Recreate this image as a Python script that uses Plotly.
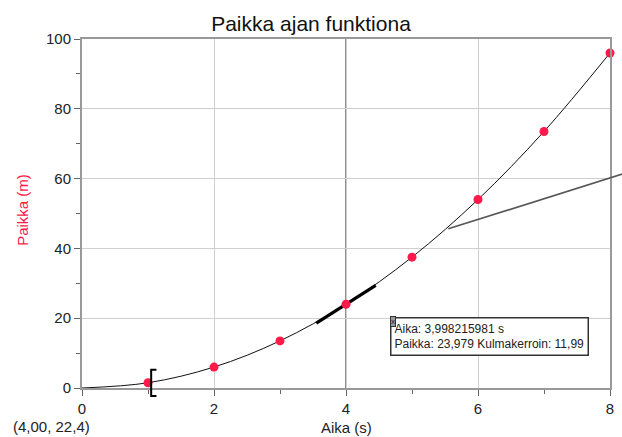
import plotly.graph_objects as go

# Data
aika = [1, 2, 3, 4, 5, 6, 7, 8]
paikka = [1.5, 6.0, 13.5, 24.0, 37.5, 54.0, 73.5, 96.0]
curve_x = [0, 1, 2, 3, 4, 5, 6, 7, 8]
curve_y = [0, 1.5, 6.0, 13.5, 24.0, 37.5, 54.0, 73.5, 96.0]
tangent_x = [3.55, 4.45]
tangent_y = [18.6, 29.4]
secant_x = [5.55, 8.0]
secant_y = [45.6, 60.2]
cursor_x = 4.0
bracket_x = 1.0
bracket_y = [-2.3, 5.2]
x_ticks = [0, 2, 4, 6, 8]
y_ticks = [0, 20, 40, 60, 80, 100]
x_range = [0, 8]
y_range = [0, 100]

RED = "#ff1a4a"
FONT = "Liberation Sans, Arial, sans-serif"

fig = go.Figure()

fig.add_trace(go.Scatter(x=curve_x, y=curve_y, mode="lines", line=dict(color="#111", width=1, shape="spline"),
                         hoverinfo="skip", showlegend=False))
fig.add_trace(go.Scatter(x=tangent_x, y=tangent_y, mode="lines", line=dict(color="#000", width=3.2),
                         hoverinfo="skip", showlegend=False))
fig.add_trace(go.Scatter(x=aika, y=paikka, mode="markers",
                         marker=dict(color=RED, size=9, line=dict(width=0)),
                         cliponaxis=False, showlegend=False))

def px(v):
    return (v - x_range[0]) / (x_range[1] - x_range[0])
def py(v):
    return (v - y_range[0]) / (y_range[1] - y_range[0])

# secant line extending beyond plot edge (paper coords computed from data)
slope = (secant_y[1] - secant_y[0]) / (secant_x[1] - secant_x[0])
x_ext = 8.2
fig.add_shape(type="line", xref="paper", yref="paper",
              x0=px(secant_x[0]), y0=py(secant_y[0]),
              x1=px(x_ext), y1=py(secant_y[0] + slope * (x_ext - secant_x[0])),
              line=dict(color="#555", width=1.6), layer="above")

# vertical cursor line
fig.add_shape(type="line", xref="x", yref="paper", x0=cursor_x, x1=cursor_x, y0=0, y1=1,
              line=dict(color="#444", width=1.2), layer="below")

# bracket "["
bx = px(bracket_x)
b_top = py(bracket_y[1])
b_bot = py(bracket_y[0])
fig.add_shape(type="path", xref="paper", yref="paper",
              path=f"M {bx+0.016},{b_top} L {bx+0.006},{b_top} L {bx+0.006},{b_bot} L {bx+0.016},{b_bot}",
              line=dict(color="#000", width=2))

# tooltip box
fig.add_annotation(xref="x", yref="y", x=4.66, y=20.3, xanchor="left", yanchor="top",
                   text="Aika: 3,998215981 s<br>Paikka: 23,979 Kulmakerroin: 11,99",
                   showarrow=False, align="left", font=dict(family=FONT, size=12, color="#222"),
                   bordercolor="#333", borderwidth=1.5, borderpad=3, bgcolor="white")
fig.add_annotation(xref="x", yref="y", x=4.67, y=20.6, xanchor="left", yanchor="top",
                   text="x", showarrow=False, font=dict(family=FONT, size=8, color="#222"),
                   bgcolor="#999", bordercolor="#333", borderwidth=1, borderpad=0)

fig.add_annotation(xref="paper", yref="paper", x=-0.135, y=-0.08, xanchor="left", yanchor="top",
                   text="(4,00, 22,4)", showarrow=False, font=dict(family=FONT, size=15, color="#222"))

# axis titles
fig.add_annotation(xref="paper", yref="paper", x=0.5, y=-0.082, xanchor="center", yanchor="top",
                   text="Aika (s)", showarrow=False, font=dict(family=FONT, size=15, color="#222"))
fig.add_annotation(xref="paper", yref="paper", x=-0.114, y=0.51, xanchor="center", yanchor="middle",
                   text="Paikka (m)", textangle=-90, showarrow=False, font=dict(family=FONT, size=15, color=RED))

fig.update_layout(
    width=622, height=437,
    margin=dict(l=82, r=12, t=39, b=49, autoexpand=False),
    paper_bgcolor="white", plot_bgcolor="white",
    title=dict(text="Paikka ajan funktiona", x=0.5, xanchor="center", y=0.945, yanchor="middle",
               font=dict(family=FONT, size=21, color="#111")),
    font=dict(family=FONT, size=15, color="#222"),
    xaxis=dict(range=x_range, tickvals=x_ticks, ticks="outside", ticklen=6, tickcolor="#666",
               showgrid=True, gridcolor="#cfcfcf", gridwidth=1, zeroline=False, automargin=False,
               showline=True, linecolor="#999", linewidth=2, mirror=True,
               minor=dict(dtick=1, ticks="outside", ticklen=4, tickcolor="#666", showgrid=False)),
    yaxis=dict(range=y_range, tickvals=y_ticks, ticks="outside", ticklen=6, tickcolor="#666",
               showgrid=True, gridcolor="#cfcfcf", gridwidth=1, zeroline=False, automargin=False,
               showline=True, linecolor="#999", linewidth=2, mirror=True,
               minor=dict(dtick=10, ticks="outside", ticklen=4, tickcolor="#666", showgrid=False)),
)

fig.write_html("out.html")
